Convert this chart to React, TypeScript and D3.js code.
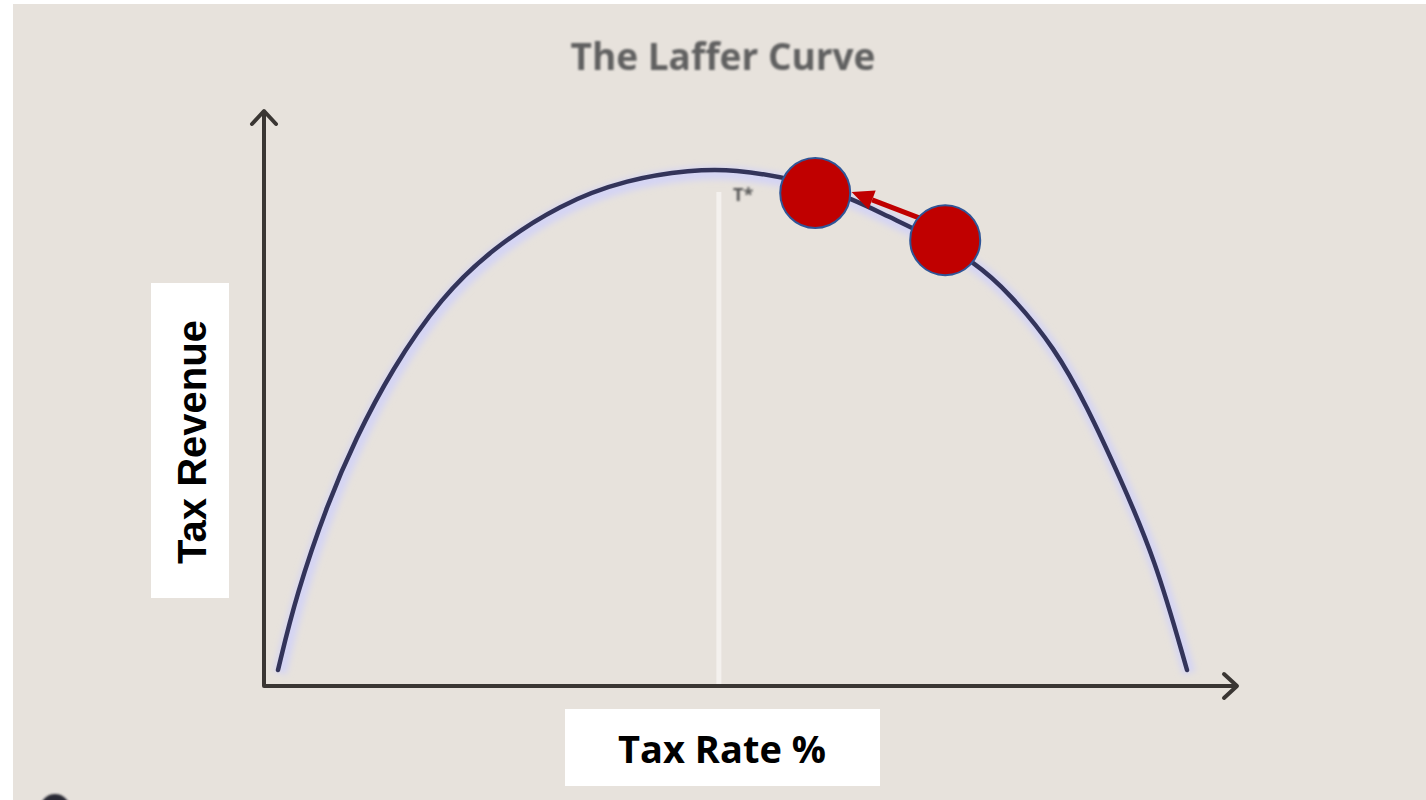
import * as d3 from "d3";

// Laffer curve (tax rate %, revenue as % of peak)
const rates = [0, 2, 5.5, 8.5, 12.5, 18, 23.5, 31, 38.5, 45.5, 50, 57.5, 63.5, 67, 71.5, 76.5, 80.5, 85.5, 89, 92.5, 96.5, 100];
const revenue = [0, 15, 33.5, 46, 60, 74.5, 84, 93, 98, 99.8, 100, 97.8, 93.8, 90.6, 86.8, 81.6, 75.2, 64.2, 52.6, 38.9, 22.2, 0];

// the two red markers, and the move between them
const markerRates = [59.1, 73.4];
const markerRevenue = [95.2, 85.8];
const arrowRates = [70.6, 63.1];
const arrowRevenue = [90.2, 95.4];

const optimumRate = 48.5;

const W = 1426;
const H = 800;

export default function App() {
  const x = d3.scaleLinear().domain([0, 100]).range([278, 1187]);
  const y = d3.scaleLinear().domain([0, 100]).range([670, 169]);

  const axisX = 264;
  const axisY = 686;

  const pts = rates.map((r, i) => [x(r), y(revenue[i])] as [number, number]);
  const line = d3.line().curve(d3.curveBasis);
  const path = line(pts) || "";

  // arrow geometry
  const ax0 = x(arrowRates[0]);
  const ay0 = y(arrowRevenue[0]);
  const ax1 = x(arrowRates[1]);
  const ay1 = y(arrowRevenue[1]);
  const len = Math.hypot(ax1 - ax0, ay1 - ay0);
  const ux = (ax1 - ax0) / len;
  const uy = (ay1 - ay0) / len;
  const headLen = 22;
  const headW = 10;
  const bx = ax1 - ux * headLen;
  const by = ay1 - uy * headLen;
  const head = [
    [ax1, ay1],
    [bx - uy * headW, by + ux * headW],
    [bx + uy * headW, by - ux * headW],
  ]
    .map((p) => p.join(","))
    .join(" ");

  return (
    <svg
      width={W}
      height={H}
      style={{ position: "absolute", left: 0, top: 0, display: "block" }}
    >
      <defs>
        <filter id="soft" x="-10%" y="-10%" width="120%" height="120%">
          <feGaussianBlur stdDeviation="0.9" />
        </filter>
        <filter id="halo" x="-10%" y="-10%" width="120%" height="120%">
          <feGaussianBlur stdDeviation="3" />
        </filter>
      </defs>
      <rect width={W} height={H} fill="#ffffff" />
      <rect x={13} y={4} width={W - 13} height={H - 4} fill="#e7e2dc" />

      {/* title */}
      <text
        x={723}
        y={70}
        textAnchor="middle"
        fontFamily="Open Sans, sans-serif"
        fontWeight={700}
        fontSize={37}
        fill="#606060"
        filter="url(#soft)"
      >
        The Laffer Curve
      </text>

      {/* T* guide */}
      <line
        x1={x(optimumRate)}
        x2={x(optimumRate)}
        y1={192}
        y2={axisY}
        stroke="#f4f1ee"
        strokeWidth={5}
      />
      <text
        x={733}
        y={201}
        fontFamily="Open Sans, sans-serif"
        fontWeight={700}
        fontSize={18}
        fill="#555"
        filter="url(#soft)"
      >
        T*
      </text>

      {/* curve */}
      <path
        d={path}
        fill="none"
        stroke="#d4d4f4"
        strokeWidth={13}
        filter="url(#halo)"
        transform="translate(2,3)"
      />
      <path d={path} fill="none" stroke="#33345a" strokeWidth={4.5} strokeLinecap="round" />

      {/* axes */}
      <g stroke="#3a3633" strokeWidth={4} fill="none" strokeLinecap="round" strokeLinejoin="round">
        <path d={`M${axisX},${axisY}H1236M${axisX},${axisY}V112`} />
        <path d={`M1224,674L1237,${axisY}L1224,698`} />
        <path d={`M${axisX - 12},124L${axisX},111L${axisX + 12},124`} />
      </g>

      {/* markers */}
      <line x1={ax0} y1={ay0} x2={bx} y2={by} stroke="#c00000" strokeWidth={5} />
      <polygon points={head} fill="#c00000" />
      {markerRates.map((r, i) => (
        <circle
          key={i}
          cx={x(r)}
          cy={y(markerRevenue[i])}
          r={35}
          fill="#c00000"
          stroke="#2f5597"
          strokeWidth={2}
        />
      ))}

      {/* axis labels */}
      <rect x={151} y={283} width={78} height={315} fill="#ffffff" />
      <text
        transform="translate(206,442) rotate(-90)"
        textAnchor="middle"
        fontFamily="Liberation Sans, Arial, sans-serif"
        fontWeight={700}
        fontSize={40}
        fill="#000"
      >
        Tax Revenue
      </text>
      <rect x={565} y={709} width={315} height={77} fill="#ffffff" />
      <text
        x={722}
        y={763}
        textAnchor="middle"
        fontFamily="Open Sans, sans-serif"
        fontWeight={700}
        fontSize={38}
        fill="#000"
      >
        Tax Rate %
      </text>

      {/* cut-off icon at bottom left */}
      <circle cx={55} cy={809} r={15} fill="#2c2c36" filter="url(#soft)" />
    </svg>
  );
}
